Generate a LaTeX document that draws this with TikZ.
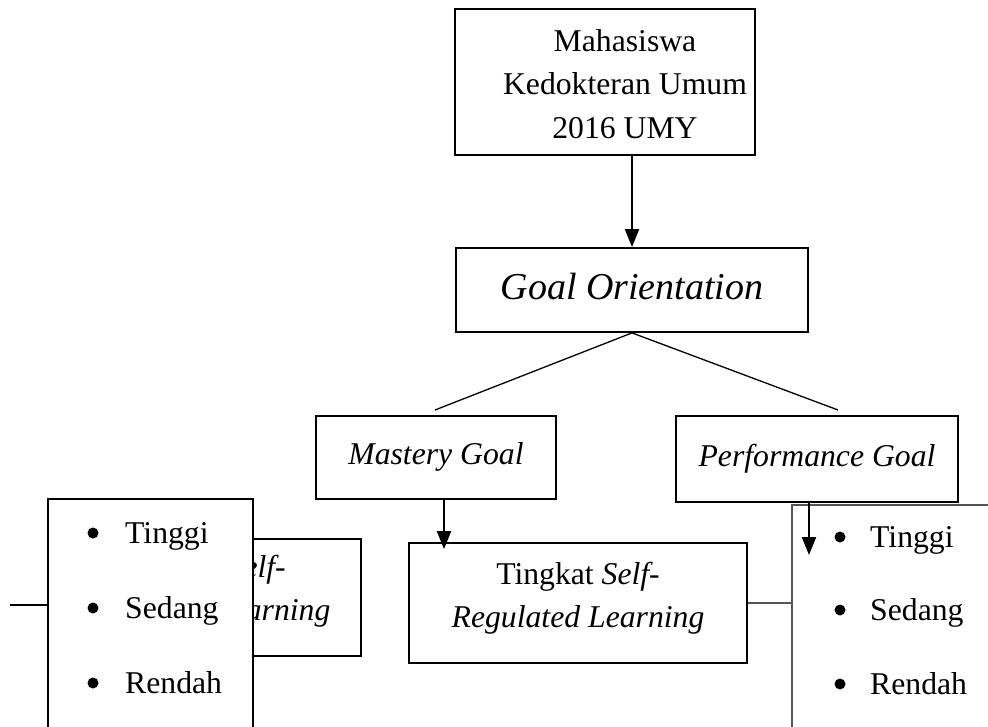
\documentclass[tikz,border=0pt]{standalone}
\usepackage{fontspec}
\setmainfont{Liberation Serif}
\usetikzlibrary{positioning,arrows.meta}
\definecolor{dgray}{RGB}{85,85,85}
\tikzset{
  bx/.style={draw, line width=1.8pt, fill=white, inner sep=0pt},
  hbx/.style={draw, line width=1.3pt, fill=white, inner sep=0pt},
  txt/.style={font=\fontsize{31.7}{43.5}\selectfont, align=center, inner sep=0pt},
  bigtxt/.style={font=\fontsize{38}{44}\selectfont\itshape, inner sep=0pt},
  itm/.style={font=\fontsize{31.7}{38}\selectfont, anchor=base west, inner sep=0pt},
  bul/.style={circle, fill, inner sep=0pt, minimum size=11pt},
  ar/.style={-{Triangle[length=18pt,width=14pt]}, line width=2.2pt},
  ln/.style={line width=1.3pt}
}

\begin{document}
\begin{tikzpicture}[x=1pt, y=-1pt]
  \useasboundingbox (0,0) rectangle (988,727);
  \clip (0,0) rectangle (988,727);
  % top part
  \node[bx, minimum width=300pt, minimum height=146pt] (mhs) at (605,82) {};
  \node[txt] (mhst) at (625,84) {Mahasiswa\\Kedokteran Umum\\2016 UMY};
  \node[bx, minimum width=352pt, minimum height=84pt] (goal) at (632,290) {};
  \node[bigtxt] (goalt) at (632,287) {Goal Orientation};
  \node[bx, minimum width=240pt, minimum height=83pt] (mast) at (436,457.5) {};
  \node[txt] (mastt) at (436,457) {\itshape Mastery Goal};
  \node[bx, minimum width=282pt, minimum height=86pt] (perf) at (817,459) {};
  \node[txt] (perft) at (817,459) {\itshape Performance Goal};
  % middle box
  \node[bx, minimum width=338pt, minimum height=120pt] (srl) at (578,603) {};
  \node[txt] (srlt) at (578,598) {Tingkat \textit{Self-}\\\textit{Regulated Learning}};
  % hidden box on the left
  \node[hbx, minimum width=306pt, minimum height=117pt] (hid) at (208,597.5) {};
  \node[txt] (hidt) at (204,591) {Tingkat \textit{Self-}\\\textit{Regulated Learning}};
  % bullet boxes
  \node[bx, minimum width=205pt, minimum height=300pt] (lbox) at (150.5,649) {};
  \node[draw=dgray, line width=1.2pt, fill=white, inner sep=0pt,
        minimum width=308pt, minimum height=300pt] (rbox) at (946,655) {};
  \foreach \y/\t [count=\i] in {533/Tinggi,608/Sedang,683/Rendah} {
    \node[bul] (lb\i) at (93,\y) {};
    \node[itm] (li\i) at (125,\y+10) {\t};
  }
  \foreach \y/\t [count=\i] in {537/Tinggi,610/Sedang,684/Rendah} {
    \node[bul] (rb\i) at (840,\y) {};
    \node[itm] (ri\i) at (870,\y+10) {\t};
  }
  % connectors
  \draw[ar] (mhs.south -| goal.north) -- (goal.north);
  \coordinate (gm) at (435,410);
  \coordinate (gp) at (838,410);
  \draw[ln] (goal.south) -- (gm);
  \draw[ln] (goal.south) -- (gp);
  \coordinate (mq) at ([xshift=8pt]mast.south);
  \draw[ar, shorten >=-7pt] (mq) -- (mq |- srl.north);
  \coordinate (pq) at ([xshift=-8pt]perf.south);
  \coordinate (pe) at (809,555);
  \draw[ar] (pq) -- (pe);
  \draw[ln, dgray] (srl.east) -- (srl.east -| rbox.west);
  \coordinate (ls) at (10,605);
  \draw[ln] (ls) -- (ls -| lbox.west);
\end{tikzpicture}
\end{document}
